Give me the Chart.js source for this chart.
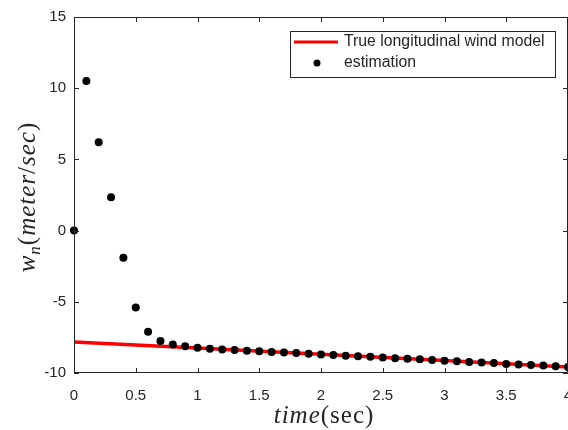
<!DOCTYPE html>
<html>
<head>
<meta charset="utf-8">
<script src="https://cdn.jsdelivr.net/npm/chart.js@4.4.1/dist/chart.umd.min.js"></script>
<style>
  html, body { margin: 0; padding: 0; background: #fff; overflow: hidden; }
  #wrap { width: 568px; height: 430px; position: relative; overflow: hidden; }
</style>
</head>
<body>
<div id="wrap"><canvas id="c" width="572" height="430"></canvas></div>
<script>
// estimation samples (t in sec, w_n in m/s)
const estTime = [0, 0.1, 0.2, 0.3, 0.4, 0.5, 0.6, 0.7, 0.8, 0.9,
  1.0, 1.1, 1.2, 1.3, 1.4, 1.5, 1.6, 1.7, 1.8, 1.9,
  2.0, 2.1, 2.2, 2.3, 2.4, 2.5, 2.6, 2.7, 2.8, 2.9,
  3.0, 3.1, 3.2, 3.3, 3.4, 3.5, 3.6, 3.7, 3.8, 3.9, 4.0];
const estValues = [0, 10.5, 6.2, 2.35, -1.9, -5.4, -7.1, -7.75, -8.0, -8.12,
  -8.22, -8.29, -8.35, -8.39, -8.43, -8.48, -8.52, -8.56, -8.6, -8.65,
  -8.7, -8.74, -8.78, -8.82, -8.86, -8.92, -8.96, -9.0, -9.04, -9.08,
  -9.14, -9.18, -9.22, -9.26, -9.3, -9.36, -9.4, -9.44, -9.48, -9.52, -9.58];

// true longitudinal wind model
const trueTime = [0, 1, 2, 3, 4];
const trueValues = [-7.83, -8.24, -8.68, -9.13, -9.58];

const xTicks = [0, 0.5, 1, 1.5, 2, 2.5, 3, 3.5, 4];
const yTicks = [-10, -5, 0, 5, 10, 15];

const legendLabels = ['True longitudinal wind model', 'estimation'];

const axisColor = '#262626';

// draws text pieces with different fonts one after another
function drawPieces(ctx, parts, x0, y0, center) {
  let total = 0;
  parts.forEach(p => { ctx.font = p[1]; total += ctx.measureText(p[0]).width; });
  let cx = center ? x0 - total / 2 : x0;
  parts.forEach(p => { ctx.font = p[1]; ctx.fillText(p[0], cx, y0 + (p[2] || 0)); cx += ctx.measureText(p[0]).width; });
}

const framePlugin = {
  id: 'frame',
  afterDraw(chart) {
    const { ctx, chartArea: a, scales } = chart;
    ctx.save();
    ctx.strokeStyle = axisColor;
    ctx.lineWidth = 1;
    ctx.beginPath();
    ctx.rect(a.left + 0.5, a.top + 0.5, a.right - a.left - 1, a.bottom - a.top - 1);
    ctx.stroke();

    // inward ticks
    const tl = 5;
    ctx.beginPath();
    xTicks.forEach(v => {
      const x = Math.round(scales.x.getPixelForValue(v)) + 0.5;
      ctx.moveTo(x, a.bottom); ctx.lineTo(x, a.bottom - tl);
      ctx.moveTo(x, a.top); ctx.lineTo(x, a.top + tl);
    });
    yTicks.forEach(v => {
      const y = Math.round(scales.y.getPixelForValue(v)) + 0.5;
      ctx.moveTo(a.left, y); ctx.lineTo(a.left + tl, y);
      ctx.moveTo(a.right, y); ctx.lineTo(a.right - tl, y);
    });
    ctx.stroke();

    // axis titles
    ctx.fillStyle = axisColor;
    ctx.textBaseline = 'alphabetic';
    ctx.letterSpacing = '1px';
    const it = 'italic 25px "Liberation Serif", serif';
    const rm = '25px "Liberation Serif", serif';
    drawPieces(ctx, [['time', it], ['(sec)', rm]], (a.left + a.right) / 2 + 3, 423, true);

    ctx.translate(35, 197);
    ctx.rotate(-Math.PI / 2);
    drawPieces(ctx, [
      ['w', it], ['n', 'italic 17px "Liberation Serif", serif', 5], ['(', rm],
      ['meter', it], ['/', rm], ['sec', it], [')', rm]
    ], 0, 0, true);
    ctx.restore();

    // legend
    ctx.save();
    const lx = 290, ly = 31, lw = 265, lh = 46;
    ctx.fillStyle = '#fff';
    ctx.fillRect(lx, ly, lw, lh);
    ctx.strokeStyle = axisColor;
    ctx.lineWidth = 1;
    ctx.strokeRect(lx + 0.5, ly + 0.5, lw, lh);
    ctx.strokeStyle = '#ff0000';
    ctx.lineWidth = 3;
    ctx.beginPath();
    ctx.moveTo(lx + 4, 42); ctx.lineTo(lx + 48, 42);
    ctx.stroke();
    ctx.fillStyle = '#000';
    ctx.beginPath();
    ctx.arc(lx + 27, 63, 3.5, 0, Math.PI * 2);
    ctx.fill();
    ctx.fillStyle = axisColor;
    ctx.font = '15.8px "Liberation Sans", Arial, sans-serif';
    ctx.textBaseline = 'middle';
    ctx.fillText(legendLabels[0], lx + 54, 42);
    ctx.fillText(legendLabels[1], lx + 54, 63);
    ctx.restore();
  }
};

new Chart(document.getElementById('c'), {
  type: 'scatter',
  data: {
    datasets: [
      {
        label: legendLabels[0],
        data: trueTime.map((t, i) => ({ x: t, y: trueValues[i] })),
        showLine: true,
        borderColor: '#ff0000',
        borderWidth: 3.5,
        pointRadius: 0,
        order: 1
      },
      {
        label: legendLabels[1],
        data: estTime.map((t, i) => ({ x: t, y: estValues[i] })),
        showLine: false,
        backgroundColor: '#000',
        borderColor: '#000',
        pointRadius: 4,
        borderWidth: 0,
        clip: false,
        order: 0
      }
    ]
  },
  options: {
    responsive: false,
    animation: false,
    layout: { padding: { left: 0, right: 0, top: 17, bottom: 0 } },
    plugins: { legend: { display: false }, tooltip: { enabled: false } },
    scales: {
      x: {
        type: 'linear', min: 0, max: 4,
        afterBuildTicks: s => { s.ticks = xTicks.map(v => ({ value: v })); },
        afterFit: s => { s.height = 57; s.paddingLeft = 0; s.paddingRight = 0; },
        grid: { display: false, drawTicks: false },
        border: { display: false },
        ticks: { color: axisColor, font: { family: '"Liberation Sans", Arial, sans-serif', size: 15 }, padding: 14, maxRotation: 0, callback: v => String(v) }
      },
      y: {
        type: 'linear', min: -10, max: 15,
        afterBuildTicks: s => { s.ticks = yTicks.map(v => ({ value: v })); },
        afterFit: s => { s.width = 74; s.paddingTop = 0; s.paddingBottom = 0; },
        grid: { display: false, drawTicks: false },
        border: { display: false },
        ticks: { color: axisColor, font: { family: '"Liberation Sans", Arial, sans-serif', size: 15 }, padding: 8, callback: v => String(v) }
      }
    }
  },
  plugins: [framePlugin]
});
</script>
</body>
</html>
